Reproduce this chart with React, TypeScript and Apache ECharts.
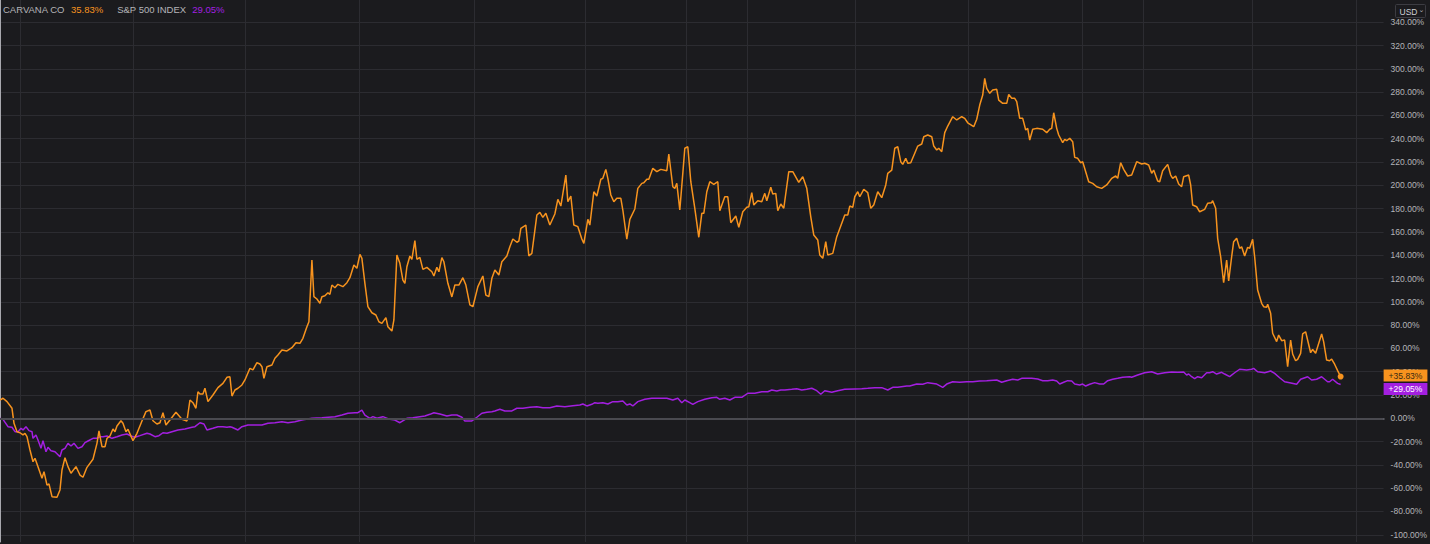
import React, { useEffect, useRef } from "react";
import * as echarts from "echarts";

// [trading day, % change]
const carvana: [number, number][] = [
  [0, 15.7], [0.6, 17.2], [1.4, 14.3], [2.4, 8.6], [2.8, -4.3], [3.4, -11.5], [4, -12.4], [4.6, -14.3], [5, -12.9], [5.4, -15.8],
  [6, -27.2], [6.6, -37.3], [7, -34.3], [7.6, -41.5], [8.4, -51.5], [8.8, -45.8], [9.4, -57.3], [9.8, -56.4], [10.4, -67.3], [11.4, -67.8],
  [12, -61.5], [12.4, -44.4], [13, -33.8], [13.6, -41.5], [14.2, -47.2], [15.2, -41.5], [16, -48.7], [16.6, -50.6], [17.4, -42.1], [18.6, -35.2],
  [19.4, -21.5], [19.8, -10.9], [20.4, -24.4], [21, -24.4], [21.4, -17.2], [22, -15.2], [22.6, -9.2], [23, -11.5], [23.4, -6.6], [24.2, -2.1],
  [24.6, -4.3], [25.2, -11.5], [25.6, -9.4], [26.6, -19.2], [27.4, -12.9], [28.4, -2.3], [29.2, 5.7], [30, 7.1], [30.6, -2.1], [31.4, -4.9],
  [32, -3.8], [32.6, 4.8], [33.2, -5.8], [34, -1.5], [35.2, 5.2], [36.4, -0.9], [37.4, -2.3], [38, 15.7], [38.6, 13.4], [39.2, 8.6],
  [39.6, 22.8], [40, 20.9], [40.6, 20.9], [41, 25.8], [41.6, 14.3], [42.6, 20], [43.6, 26.3], [44.6, 30], [45.4, 35.2], [46, 35.7],
  [46.4, 19.1], [47, 24.3], [47.6, 25.8], [48.4, 28.6], [49, 32.9], [50, 42.9], [50.6, 41.5], [51.4, 47.7], [52, 46.6], [52.4, 44.3],
  [52.8, 34.3], [53.4, 44.3], [54.4, 45.8], [55, 51.5], [55.6, 54.3], [56.4, 58.6], [57.4, 57.8], [58.4, 60.6], [59.2, 64.9], [60, 64.4],
  [60.6, 68.7], [61.4, 78.6], [61.8, 82.9], [62.4, 135.9], [62.8, 104.4], [63.4, 102.4], [64, 98.7], [64.4, 104.4], [65, 105.2], [65.6, 107.8],
  [66, 106.4], [66.4, 114.4], [67, 112.1], [67.6, 115], [68.6, 113], [69.4, 116.4], [70, 120.7], [70.8, 131.6], [71.4, 128.8], [72, 140.8],
  [72.4, 137.3], [73, 115.9], [73.6, 95.8], [74.4, 90.6], [75.2, 88.7], [75.8, 82.9], [76.4, 81.5], [77.2, 86.4], [77.6, 78.6], [78.4, 74.9],
  [78.8, 84.4], [79.4, 140.2], [80, 133], [80.6, 118.7], [81, 115.9], [81.4, 130.1], [82, 139.3], [82.4, 136.5], [83, 152.5], [83.4, 136.5],
  [84, 138.2], [84.6, 127.9], [85.4, 129.6], [86.4, 125.8], [86.8, 122.2], [87.4, 129.6], [87.8, 125.8], [88.4, 137.9], [88.8, 134.4], [89.6, 115.9],
  [90.4, 104.2], [91, 114.4], [91.8, 114.4], [92.6, 120.7], [93.2, 114.4], [94, 97.3], [94.6, 95.8], [95.6, 113], [96.6, 122.2], [97.2, 105.8],
  [97.8, 104.4], [98.4, 120.2], [99, 127.3], [99.8, 123], [100.4, 134.4], [101.4, 139.3], [102, 147.3], [102.6, 153.9], [103.4, 151.1], [103.8, 152.2],
  [104.2, 163.1], [105.2, 165.9], [105.8, 139.3], [106.4, 141.6], [107.4, 174.5], [108, 176.8], [108.6, 172.5], [109.2, 176], [110, 165.9], [111, 175.4],
  [111.6, 188], [112.2, 182.2], [113.2, 208.8], [113.6, 185.9], [114.2, 190.8], [114.8, 165.9], [115.6, 164.5], [116.4, 153.9], [116.8, 150.2], [117.6, 170.8],
  [118, 165.9], [118.8, 194.5], [119.4, 190.8], [120.2, 205.2], [120.6, 206], [121.2, 213.7], [121.6, 206], [122.2, 191.7], [122.8, 185.9], [123.4, 188.8],
  [124.2, 188.8], [124.6, 178.8], [125.4, 153.7], [126, 170.8], [127, 179.7], [127.6, 197.4], [128.4, 201.7], [128.8, 202.2], [129.4, 205.2], [129.8, 205.2],
  [130.6, 214.6], [131.4, 211.7], [132.2, 213.7], [133.4, 212.5], [133.8, 226.9], [134.6, 198.8], [135, 197.4], [135.4, 201.7], [136, 178.8], [136.6, 210.3],
  [137, 231.8], [137.6, 233.1], [138.2, 203.1], [139, 180.3], [139.8, 155.4], [140.4, 176], [140.8, 176], [141.4, 194.5], [142, 203.1], [142.8, 200.9],
  [143.6, 203.1], [144, 178.2], [145, 190.2], [145.6, 190.2], [146.2, 167.9], [147.2, 173.7], [147.8, 164], [148.6, 177.3], [149.4, 181.1], [149.8, 181.6],
  [150.4, 193.7], [150.8, 183.1], [151.6, 186.8], [152.4, 185.9], [153, 193.1], [153.4, 186.8], [154.2, 198.3], [154.6, 192.5], [155.2, 193.1], [155.6, 178.2],
  [156.2, 184], [156.8, 180.3], [157.8, 211.7], [158.6, 211.7], [159.8, 202.6], [160.6, 207.4], [161.4, 197.4], [162.2, 173], [162.8, 157.3], [163.6, 153],
  [164, 140.2], [164.6, 137.3], [165.2, 151.6], [165.6, 140.2], [166.6, 141.6], [167.4, 155.9], [168.4, 167.4], [169, 174.5], [169.6, 174.5], [170, 182.2],
  [170.6, 181.1], [171, 190.2], [171.6, 194.5], [172, 190.2], [172.8, 196.6], [173.6, 193.7], [174.2, 180.3], [174.8, 183.1], [175.6, 194.5], [176.4, 189.4],
  [177.2, 200.3], [177.6, 210.3], [178.4, 213.1], [179, 231.8], [179.6, 233.1], [180.2, 220.3], [180.6, 218], [181.2, 223.2], [181.6, 218.9], [182.2, 219.4],
  [183, 227.5], [183.6, 233.7], [184.4, 235.5], [184.8, 241.7], [185.6, 243.2], [186.4, 241.7], [186.8, 233.7], [187.4, 230.3], [187.8, 231.8], [188.4, 228.9],
  [189, 245.2], [189.6, 250.9], [190.6, 258.9], [191.4, 256.1], [192.4, 258.9], [193, 257.5], [193.6, 253.7], [194.8, 250.3], [195.4, 256.7], [196, 268.9],
  [196.6, 277.5], [197, 291.9], [197.4, 283.3], [198, 279], [198.6, 281.8], [199.4, 282.4], [199.8, 273.2], [200.6, 270.4], [201.4, 270.4], [201.8, 278.1],
  [202.4, 274.7], [203, 274.7], [203.4, 271.8], [204, 257.5], [204.6, 257.5], [205.2, 247.5], [205.6, 248.9], [206, 238.9], [206.6, 248.1], [207.4, 248.9],
  [208.6, 248.1], [209.4, 245.2], [210, 248.1], [210.4, 248.9], [210.8, 262.3], [211.4, 248.9], [211.8, 243.2], [212.6, 236.6], [213, 239.5], [213.4, 238.3],
  [214, 240.4], [214.6, 237.4], [215, 224], [215.6, 223.2], [216.2, 219.4], [216.6, 220.3], [217.8, 203.1], [218.6, 201.7], [219.4, 198.8], [220.4, 197.4],
  [221.4, 200.3], [222.4, 206], [223.2, 208], [223.6, 206], [224.2, 219.4], [224.8, 213.7], [225.6, 208], [226.4, 208.8], [227.4, 220.3], [228.4, 218.3],
  [229, 218.9], [229.8, 217.4], [230.4, 210.3], [230.8, 213.1], [231.6, 203.7], [232, 203.1], [232.6, 212.5], [233.6, 218], [234.2, 208.8], [234.6, 206],
  [235.2, 208], [235.8, 201.1], [236.4, 198.8], [236.8, 207.4], [237.8, 208.8], [238.2, 200.3], [238.6, 183.1], [239.4, 181.6], [240, 177.3], [241, 179.4],
  [241.6, 184.6], [242.4, 185.1], [242.6, 186.8], [243.2, 180.3], [243.6, 154.5], [244.2, 138.7], [244.8, 116.4], [245.4, 135.9], [245.8, 117.9], [246.4, 138.7],
  [246.8, 151.6], [247.4, 154.5], [248, 145.9], [248.4, 147.3], [249, 139.3], [249.6, 146.8], [250, 145.9], [250.6, 153.7], [251, 138.7], [251.6, 110.1],
  [252.4, 98.7], [252.8, 95.8], [253.4, 95.3], [253.6, 97.9], [254.2, 90.1], [254.6, 73], [255.4, 65.8], [255.8, 71.5], [256.4, 66.6], [257, 67.2],
  [257.6, 44.3], [258.2, 67.2], [258.6, 55.2], [259.2, 49.4], [259.6, 50.6], [260.2, 55.8], [260.6, 72.4], [261.2, 74.3], [262.2, 56.3], [262.6, 59.2],
  [263.2, 55.8], [264.4, 72.4], [264.8, 65.8], [265.4, 50], [266, 49.4], [266.4, 50.9], [267, 46.4], [267.6, 40.9], [268.2, 35.83],
];

const sp500: [number, number][] = [
  [0, 0], [0.6, -0.9], [1.6, -7.2], [2.4, -7.7], [3, -11.5], [3.6, -11.5], [4.2, -8.6], [4.6, -10], [5.2, -7.2], [5.8, -10.6],
  [6.4, -11.5], [6.6, -17.2], [7.2, -14.3], [7.6, -18.6], [8.2, -25.8], [8.6, -19.2], [9.2, -28.7], [9.6, -24.9], [10.2, -27.8], [11, -28.7],
  [12, -33], [12.4, -27.2], [13, -25.8], [13.6, -21.5], [14.2, -23.8], [14.8, -21.5], [15.6, -25.8], [16.4, -24.4], [17, -20.9], [17.6, -19.5],
  [18.6, -17.2], [19.4, -17.2], [20, -15.8], [20.6, -15.8], [21.4, -15.2], [22.4, -17.2], [23.4, -15.8], [24.4, -14.3], [25.4, -13.5], [26.2, -15.2],
  [27, -16.3], [28, -14.9], [29.4, -12.9], [30, -13.5], [31, -15.8], [31.8, -14.9], [32.6, -12.4], [33.4, -12.9], [34.4, -11.5], [35.6, -10],
  [37, -9.2], [38.4, -7.7], [39, -7.2], [40, -3.8], [40.8, -4.9], [41.4, -10], [42.6, -8.6], [43.6, -7.2], [44.6, -7.2], [45.4, -7.7],
  [46, -7.2], [46.4, -7.7], [47.6, -10], [48.4, -7.2], [49.6, -5.8], [51, -5.8], [52.4, -5.8], [53.6, -4.3], [55, -3.8], [56.4, -2.9],
  [57.6, -3.8], [59, -2.9], [60.4, -1.5], [62.4, 0], [64.4, 0.5], [67, 1.4], [68.4, 2.8], [69.6, 4.3], [71, 4.8], [71.6, 4.8],
  [72.4, 7.1], [73, 2.8], [74, 0], [74.6, 1.4], [75.4, 0], [76.6, 1.4], [78, -0.9], [79, -1.5], [80, -3.8], [81.4, 0],
  [82.6, 0.5], [84, 1.4], [85, 2], [86, 3.4], [86.8, 4.8], [88, 3.7], [89.4, 2], [90.4, 2.8], [91.4, 2.8], [92.4, 0.9],
  [93, -2.3], [94.4, -2.3], [95.4, 0.9], [96.4, 4.3], [97.4, 5.2], [98.4, 5.7], [99, 6.3], [100, 7.7], [101, 6.3], [102.4, 6.3],
  [103.4, 8.6], [104.6, 8.6], [106, 9.4], [107.4, 10], [108.6, 9.1], [110, 9.1], [111.4, 10.6], [113, 10], [114.6, 10.8], [116, 11.4],
  [116.6, 12.3], [117.4, 10.6], [118.4, 12], [119, 13.4], [119.6, 12.9], [120.6, 13.4], [121.6, 12.3], [122.6, 14.3], [123.6, 14.3], [124.6, 14.9],
  [125.4, 11.4], [126, 12.3], [126.6, 10.6], [127.6, 14.3], [129, 16.3], [130.4, 17.2], [132, 17.2], [133.4, 17.2], [134.6, 15.7], [135.6, 17.2],
  [136.4, 13.4], [137, 15.7], [138, 13.4], [138.6, 12], [139.6, 14.3], [141, 16.3], [142.4, 17.7], [143.4, 18], [144, 16.3], [145, 17.2],
  [146, 15.7], [147, 18], [148.4, 18], [149.6, 21.5], [151, 21.5], [152.4, 22.8], [153.6, 22.8], [154.4, 24.3], [155.4, 23.4], [156.2, 24.3],
  [157, 24.3], [158.4, 24.9], [159.4, 25.4], [160.4, 24.3], [161.4, 24.9], [162.4, 25.8], [163.4, 23.7], [164.2, 20.6], [165, 23.7], [166.4, 22.3],
  [167.6, 23.7], [169, 24.9], [171, 25.2], [172.4, 25.4], [173.6, 25.8], [175, 26.3], [176.4, 26.3], [177.6, 24.3], [178.6, 26.6], [179.6, 26.6],
  [181.4, 27.7], [182, 27.7], [183.4, 29.4], [184.6, 29.2], [185.6, 30.6], [187.4, 29.4], [188.6, 26.6], [189.4, 29.4], [190.6, 31.4], [192, 30.9],
  [193.4, 31.4], [194.6, 31.4], [196, 32], [197.4, 32.3], [199.4, 32.9], [200.4, 30.9], [201.4, 32.3], [202.6, 33.5], [203.6, 32.9], [204.4, 34.3],
  [206.4, 34.3], [207.6, 33.7], [208.6, 32.3], [209.6, 32.3], [210.6, 32.9], [211.4, 32], [212, 29.4], [212.8, 30.9], [213.6, 32.3], [214.4, 32],
  [215, 29.4], [216, 28.6], [216.6, 29.4], [217.2, 27.7], [218, 29.2], [219, 30.6], [220, 29.4], [220.8, 29.4], [221.6, 32.3], [222.6, 33.5],
  [223.6, 34.3], [224.6, 35.2], [226, 35.7], [226.4, 35.2], [227.6, 37.2], [229, 39.1], [230.4, 40], [231.6, 38], [233, 39.1], [234.4, 39.7],
  [235.6, 39.5], [236.8, 39.7], [237.4, 37.2], [237.8, 38], [238.4, 35.7], [239, 34], [239.6, 35.7], [240.4, 34.8], [241.4, 39.1], [242, 39.1],
  [242.6, 40], [243.4, 38], [244.4, 39.5], [245, 38], [246, 35.7], [247, 39.1], [248, 42.1], [249.4, 41.5], [250.4, 42.1], [250.8, 42.9],
  [251.6, 40], [253, 39.1], [254.2, 40.6], [255, 38.6], [256, 34.8], [257, 31.4], [258, 30.6], [259.4, 29.2], [260.2, 33.5], [261.6, 35.7],
  [262.4, 32.9], [263.4, 33.5], [264.4, 35.7], [265.6, 31.4], [266, 31.4], [266.6, 33.5], [267.6, 30], [268.2, 29.05],
];

const seriesNames = ["CARVANA CO", "S&P 500 INDEX"];
const yTickValues = [-100, -80, -60, -40, -20, 0, 20, 40, 60, 80, 100, 120, 140, 160, 180, 200, 220, 240, 260, 280, 300, 320, 340];
const xGridDays = [4.1, 26.6, 49.1, 71.8, 94.8, 117, 137.2, 149.4, 171, 193.8, 216.6, 228.8, 250.6, 271.4];
const currency = "USD";

const ORANGE = "#f7931e";
const PURPLE = "#a31fe0";
const BG = "#1b1b1e";
const GRID = "#2c2c31";

export default function App() {
  const ref = useRef<HTMLDivElement>(null);
  useEffect(() => {
    document.body.style.margin = "0";
    const chart = echarts.init(ref.current!, null, { renderer: "svg" });
    const lastC = carvana[carvana.length - 1];
    const lastS = sp500[sp500.length - 1];
    const fmtPct = (v: number) => v.toFixed(2) + "%";
    const font = "'Liberation Sans', Arial, sans-serif";
    const hidden = { color: "rgba(0,0,0,0)", width: 0 };
    chart.setOption({
      animation: false,
      backgroundColor: BG,
      title: {
        left: 3,
        top: 4,
        padding: 0,
        text: `{n|${seriesNames[0]}}{a|${fmtPct(lastC[1])}}{m|${seriesNames[1]}}{b|${fmtPct(lastS[1])}}`,
        textStyle: {
          fontFamily: font,
          fontWeight: "normal",
          rich: {
            n: { color: "#b4b4b8", fontSize: 9.5, fontFamily: font, fontWeight: "normal" },
            m: { color: "#b4b4b8", fontSize: 9.5, fontFamily: font, fontWeight: "normal", padding: [0, 0, 0, 14] },
            a: { color: ORANGE, fontSize: 9.5, fontFamily: font, fontWeight: "normal", padding: [0, 0, 0, 6] },
            b: { color: PURPLE, fontSize: 9.5, fontFamily: font, fontWeight: "normal", padding: [0, 0, 0, 6] },
          },
        },
      },
      grid: { left: 0, right: 46, top: 0, bottom: 2, containLabel: false },
      xAxis: {
        type: "value",
        min: 0,
        max: 276.8,
        axisLine: { show: true, lineStyle: { color: "#6e6e74", width: 2 } },
        axisTick: { show: false, customValues: xGridDays },
        axisLabel: { show: false },
        splitLine: { show: true, lineStyle: { color: GRID, width: 1 } },
      },
      yAxis: {
        type: "value",
        position: "right",
        min: -106.2,
        max: 359.1,
        axisLine: { show: true, lineStyle: { color: "#a8a8ae", width: 1 } },
        axisTick: { show: false, customValues: yTickValues },
        axisLabel: {
          customValues: yTickValues,
          color: "#b4b4b8",
          fontSize: 8.5,
          fontFamily: font,
          margin: 7,
          formatter: (v: number) => fmtPct(v),
        },
        splitLine: { show: true, lineStyle: { color: GRID, width: 1 } },
      },
      series: [
        {
          name: seriesNames[1],
          type: "line",
          data: sp500,
          showSymbol: false,
          lineStyle: { color: PURPLE, width: 1.5 },
          itemStyle: { color: PURPLE },
          z: 2,
          markLine: {
            silent: true,
            symbol: "none",
            animation: false,
            data: [
              {
                yAxis: 0,
                lineStyle: { color: "#4a4a50", width: 2, type: "solid" },
                label: { show: false },
              },
              {
                yAxis: lastS[1],
                lineStyle: hidden,
                label: {
                  show: true,
                  position: "end",
                  distance: 0,
                  offset: [0, 4.5],
                  formatter: "+" + fmtPct(lastS[1]),
                  backgroundColor: PURPLE,
                  color: "#ffffff",
                  fontSize: 8.5,
                  fontFamily: font,
                  padding: [2, 5, 1, 5],
                },
              },
            ],
          },
        },
        {
          name: seriesNames[0],
          type: "line",
          data: carvana,
          showSymbol: false,
          lineStyle: { color: ORANGE, width: 1.5 },
          itemStyle: { color: ORANGE },
          z: 3,
          markPoint: {
            silent: true,
            symbol: "circle",
            symbolSize: 6,
            data: [{ coord: lastC }],
            label: { show: false },
            itemStyle: { color: ORANGE },
          },
          markLine: {
            silent: true,
            symbol: "none",
            animation: false,
            data: [
              {
                yAxis: lastC[1],
                lineStyle: hidden,
                label: {
                  show: true,
                  position: "end",
                  distance: 0,
                  offset: [0, -1],
                  formatter: "+" + fmtPct(lastC[1]),
                  backgroundColor: ORANGE,
                  color: "#3a2a12",
                  fontSize: 8.5,
                  fontFamily: font,
                  padding: [2, 5, 1, 5],
                },
              },
            ],
          },
        },
      ],
      graphic: [
        {
          type: "group",
          right: 4,
          top: 4,
          children: [
            {
              type: "rect",
              shape: { x: 0, y: 0, width: 30, height: 13, r: 1 },
              style: { fill: BG, stroke: "#3c3c42", lineWidth: 1 },
            },
            {
              type: "text",
              x: 4,
              y: 2.5,
              style: { text: currency, fill: "#d0d0d4", fontSize: 8.5, fontFamily: font },
            },
            {
              type: "text",
              x: 23,
              y: 2,
              style: { text: "⌄", fill: "#b0b0b4", fontSize: 7, fontFamily: "DejaVu Sans" },
            },
          ],
        },
      ],
    });
    return () => chart.dispose();
  }, []);
  return <div ref={ref} style={{ position: "fixed", left: 0, top: 0, width: 1430, height: 544 }} />;
}
